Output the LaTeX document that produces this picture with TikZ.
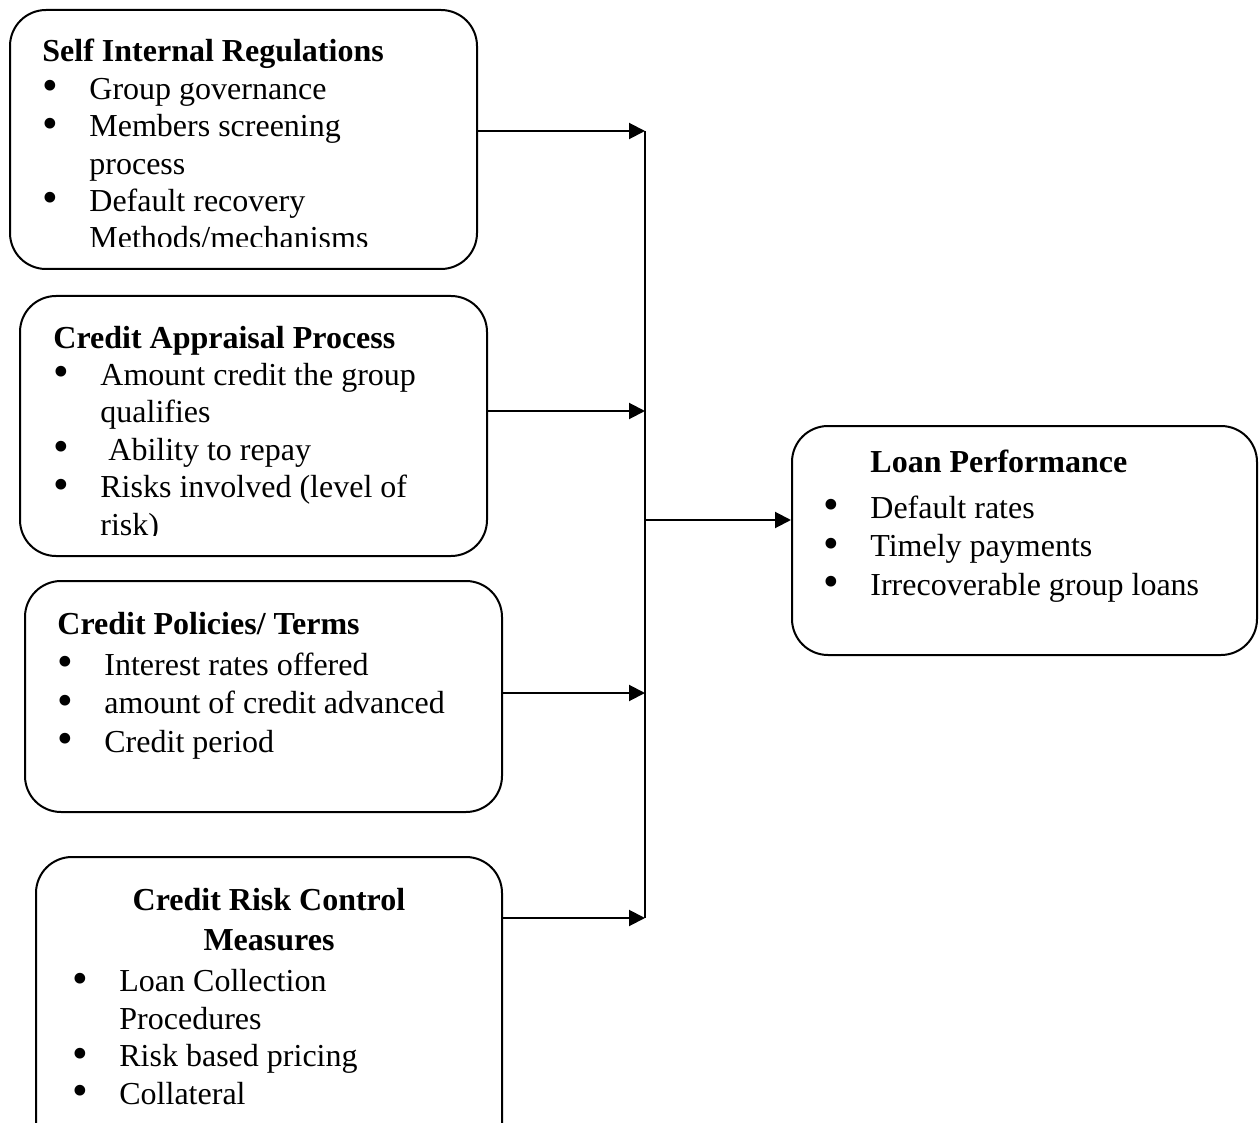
\documentclass[tikz,border=0pt]{standalone}
\usepackage{fontspec}
\setmainfont{Liberation Serif}
\usetikzlibrary{arrows.meta,positioning,fit}
\newcommand{\itm}[1]{\makebox[23.5pt][l]{\raisebox{-0.7pt}{\scalebox{1.4}{\textbullet}}}#1}
\newcommand{\cnt}{\hspace*{23.5pt}}
\tikzset{
  factorbox/.style={draw=black,rounded corners=18pt,line width=1pt,inner sep=0pt},
  boxtext/.style={align=left,inner sep=0pt,anchor=base west,
    font=\fontsize{16}{18.7}\selectfont},
  widetext/.style={boxtext,font=\fontsize{16}{19.2}\selectfont},
  headtext/.style={align=center,inner sep=0pt,anchor=base,
    font=\fontsize{16}{20}\selectfont\bfseries},
  arrow/.style={-{Triangle[length=8pt,width=8pt]},line width=1pt,draw=black},
  trunk/.style={line width=1pt,draw=black}
}
\begin{document}
\begin{tikzpicture}[x=0.5pt,y=-0.5pt]
  \useasboundingbox (0,0) rectangle (1259,1123);
  \clip (0,0) rectangle (1259,1123);
  \node[factorbox,fit={(10,10) (477,269)}] (selfreg) {};
  \node[factorbox,fit={(20,296) (487,556)}] (appraisal) {};
  \node[factorbox,fit={(25,581) (502,812)}] (policies) {};
  \node[factorbox,fit={(36,857) (502,1160)}] (riskctrl) {};
  \node[factorbox,fit={(792,426) (1257,655)}] (loanperf) {};
  \begin{scope}
    \clip (10,10) rectangle (477,247);
    \node[boxtext] (selfregtext) at (42,249) {\textbf{Self Internal Regulations}\\
      \itm{Group governance}\\
      \itm{Members screening}\\
      \cnt process\\
      \itm{Default recovery}\\
      \cnt Methods/mechanisms};
  \end{scope}
  \begin{scope}
    \clip (20,296) rectangle (487,535);
    \node[boxtext] (appraisaltext) at (53,535) {\textbf{Credit Appraisal Process}\\
      \itm{Amount credit the group}\\
      \cnt qualifies\\
      \itm{\ Ability to repay}\\
      \itm{Risks involved (level of}\\
      \cnt risk)};
  \end{scope}
  \node[widetext] (policiestext) at (57,752) {\textbf{Credit Policies/ Terms}\\[1pt]
    \itm{Interest rates offered}\\
    \itm{amount of credit advanced}\\
    \itm{Credit period}};
  \node[headtext] (riskctrlhead) at (269,950) {Credit Risk Control\\Measures};
  \node[boxtext] (riskctrltext) at (72,1104) {\itm{Loan Collection}\\
    \cnt Procedures\\
    \itm{Risk based pricing}\\
    \itm{Collateral}};
  \node[widetext] (loanperftext) at (823,595) {\cnt\textbf{Loan Performance}\\[3.5pt]
    \itm{Default rates}\\
    \itm{Timely payments}\\
    \itm{Irrecoverable group loans}};
  \coordinate (t1) at (645,131);
  \coordinate (t2) at (645,411);
  \coordinate (t3) at (645,693);
  \coordinate (t4) at (645,918);
  \coordinate (tm) at (645,520);
  \draw[trunk] (t1) -- (t4);
  \draw[arrow] (selfreg.east |- t1) -- (t1);
  \draw[arrow] (appraisal.east |- t2) -- (t2);
  \draw[arrow] (policies.east |- t3) -- (t3);
  \draw[arrow] (riskctrl.east |- t4) -- (t4);
  \draw[arrow] (tm) -- (loanperf.west |- tm);
\end{tikzpicture}
\end{document}
